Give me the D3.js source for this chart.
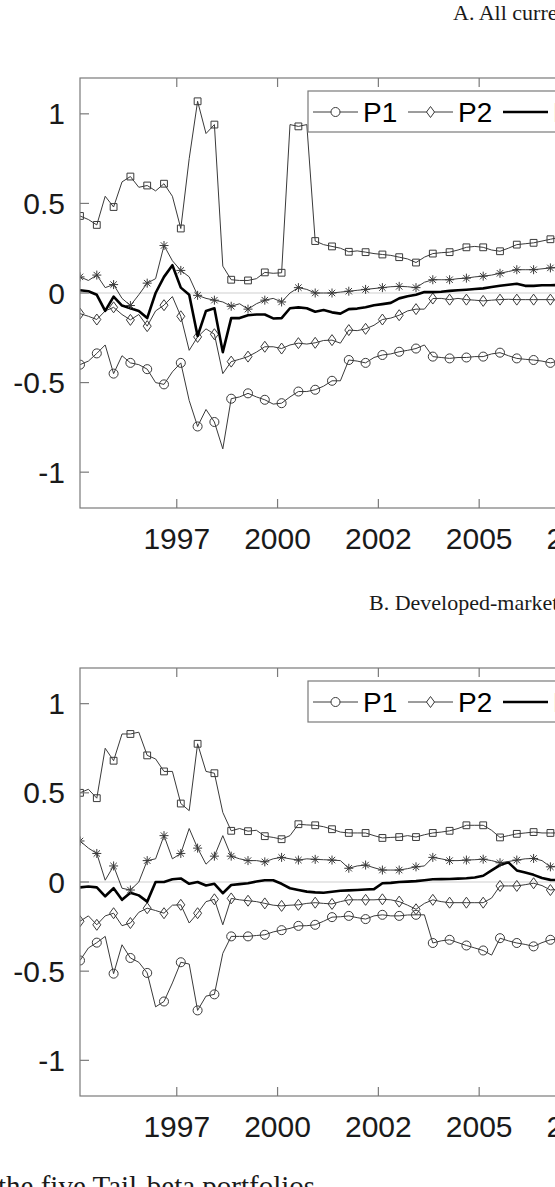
<!DOCTYPE html>
<html>
<head>
<meta charset="utf-8">
<script src="https://cdn.jsdelivr.net/npm/d3@7"></script>
<style>
  body { margin: 0; background: #fff; }
  svg { display: block; }
</style>
</head>
<body>
<script>
// time grid: one value every 2.5 months, markers on every second value
const startYear = 1995.1, stepYears = 5 / 24;
const xTickYears = [1997.5, 2000, 2002.5, 2005, 2007.5];
const xTickLabels = ["1997", "2000", "2002", "2005", "2007"];
const yTicks = [-1, -0.5, 0, 0.5, 1];
const yTickLabels = ["-1", "-0.5", "0", "0.5", "1"];
const seriesNames = ["P1", "P2", "P3", "P4", "P5"];

// A. All currencies
const allP1 = [-0.40,-0.38,-0.337,-0.29,-0.45,-0.35,-0.39,-0.40,-0.425,-0.50, -0.51,-0.44,-0.39,-0.60,-0.745,-0.65,-0.72,-0.87,-0.59,-0.58, -0.56,-0.58,-0.596,-0.62,-0.615,-0.58,-0.55,-0.55,-0.54,-0.52, -0.49,-0.49,-0.374,-0.38,-0.39,-0.36,-0.346,-0.34,-0.328,-0.32, -0.31,-0.29,-0.355,-0.36,-0.365,-0.36,-0.36,-0.355,-0.355,-0.34, -0.333,-0.35,-0.365,-0.37,-0.374,-0.38,-0.39,-0.38,-0.38];
const allP2 = [-0.115,-0.13,-0.148,-0.10,-0.08,-0.12,-0.15,-0.12,-0.185,-0.10, -0.068,-0.02,-0.13,-0.32,-0.245,-0.20,-0.23,-0.45,-0.383,-0.37, -0.355,-0.33,-0.30,-0.30,-0.31,-0.29,-0.28,-0.285,-0.278,-0.265, -0.263,-0.28,-0.207,-0.21,-0.20,-0.18,-0.148,-0.14,-0.124,-0.10, -0.09,-0.09,-0.031,-0.03,-0.037,-0.03,-0.037,-0.04,-0.044,-0.04, -0.037,-0.035,-0.037,-0.037,-0.037,-0.037,-0.037,-0.04,-0.04];
const allP3 = [0.015,0.01,-0.01,-0.10,-0.02,-0.07,-0.085,-0.10,-0.14,0.0, 0.09,0.155,0.03,-0.01,-0.24,-0.10,-0.085,-0.33,-0.14,-0.14, -0.124,-0.12,-0.12,-0.142,-0.14,-0.085,-0.08,-0.085,-0.105,-0.095, -0.108,-0.115,-0.09,-0.087,-0.08,-0.068,-0.062,-0.055,-0.03,-0.018, -0.01,0.005,0.005,0.007,0.012,0.015,0.018,0.022,0.026,0.033, 0.04,0.046,0.052,0.04,0.04,0.043,0.043,0.045,0.045];
const allP4 = [0.09,0.07,0.10,0.03,0.047,-0.03,-0.07,-0.01,0.055,0.08, 0.265,0.18,0.126,0.09,-0.013,-0.03,-0.04,-0.05,-0.074,-0.06, -0.09,-0.06,-0.04,-0.03,-0.05,0.0,0.03,0.02,0.0,0.0, 0.0,0.005,0.01,0.015,0.02,0.025,0.03,0.035,0.037,0.035, 0.03,0.06,0.074,0.074,0.074,0.08,0.083,0.09,0.094,0.10, 0.11,0.12,0.13,0.13,0.13,0.135,0.14,0.145,0.15];
const allP5 = [0.43,0.41,0.38,0.54,0.48,0.62,0.65,0.59,0.60,0.57, 0.61,0.54,0.36,0.75,1.07,0.89,0.94,0.15,0.074,0.07, 0.07,0.08,0.115,0.11,0.113,0.94,0.93,0.94,0.29,0.27, 0.26,0.25,0.23,0.235,0.228,0.22,0.215,0.21,0.20,0.19, 0.17,0.20,0.22,0.225,0.228,0.24,0.255,0.26,0.255,0.24, 0.233,0.25,0.27,0.275,0.28,0.29,0.30,0.31,0.31];

// B. Developed-market currencies
const devP1 = [-0.44,-0.37,-0.34,-0.305,-0.514,-0.352,-0.426,-0.45,-0.51,-0.70, -0.67,-0.566,-0.45,-0.46,-0.72,-0.64,-0.63,-0.40,-0.305,-0.305, -0.305,-0.30,-0.296,-0.28,-0.27,-0.26,-0.246,-0.245,-0.24,-0.22, -0.197,-0.195,-0.19,-0.20,-0.208,-0.19,-0.184,-0.19,-0.19,-0.185, -0.184,-0.184,-0.342,-0.33,-0.324,-0.34,-0.356,-0.37,-0.384,-0.41, -0.315,-0.33,-0.342,-0.35,-0.361,-0.34,-0.324,-0.32,-0.32];
const devP2 = [-0.22,-0.19,-0.24,-0.19,-0.175,-0.245,-0.23,-0.17,-0.147,-0.16, -0.175,-0.13,-0.128,-0.23,-0.175,-0.11,-0.097,-0.24,-0.092,-0.10, -0.105,-0.11,-0.12,-0.13,-0.134,-0.13,-0.128,-0.12,-0.116,-0.12, -0.123,-0.11,-0.10,-0.10,-0.10,-0.10,-0.097,-0.10,-0.11,-0.13, -0.153,-0.12,-0.10,-0.11,-0.116,-0.116,-0.116,-0.116,-0.116,-0.09, -0.022,-0.022,-0.022,-0.015,-0.007,-0.02,-0.045,-0.04,-0.04];
const devP3 = [-0.03,-0.025,-0.03,-0.08,-0.035,-0.10,-0.06,-0.075,-0.11,0.0, 0.0,0.015,0.02,-0.01,0.0,-0.02,-0.01,-0.063,-0.017,-0.012, -0.007,0.003,0.01,0.01,-0.01,-0.035,-0.045,-0.054,-0.058,-0.06, -0.055,-0.049,-0.047,-0.045,-0.042,-0.04,-0.007,-0.005,0.0,0.002, 0.005,0.01,0.015,0.016,0.017,0.019,0.021,0.025,0.035,0.065, 0.095,0.11,0.065,0.053,0.04,0.022,0.012,0.01,0.01];
const devP4 = [0.23,0.19,0.16,0.01,0.09,-0.035,-0.045,0.0,0.12,0.13, 0.26,0.13,0.16,0.30,0.19,0.10,0.145,0.26,0.145,0.13, 0.12,0.12,0.113,0.13,0.138,0.13,0.123,0.13,0.127,0.125, 0.123,0.12,0.077,0.09,0.095,0.08,0.067,0.067,0.067,0.075, 0.085,0.09,0.138,0.13,0.12,0.12,0.123,0.125,0.128,0.12, 0.108,0.115,0.123,0.13,0.132,0.12,0.085,0.09,0.09];
const devP5 = [0.50,0.52,0.47,0.75,0.68,0.83,0.83,0.84,0.71,0.69, 0.62,0.62,0.44,0.40,0.775,0.62,0.61,0.39,0.287,0.30, 0.285,0.29,0.257,0.25,0.24,0.26,0.324,0.32,0.318,0.31, 0.296,0.28,0.275,0.275,0.275,0.26,0.247,0.25,0.252,0.26, 0.252,0.265,0.275,0.28,0.287,0.30,0.318,0.318,0.318,0.29, 0.25,0.26,0.27,0.275,0.28,0.275,0.275,0.275,0.275];

const W = 555, H = 1187;
const lineColor = "#3a3a3a", axisColor = "#7a7a7a", textColor = "#1a1a1a";
const sansFont = "'Liberation Sans', Arial, Helvetica, sans-serif";
const serifFont = "'Liberation Serif', 'Times New Roman', serif";

const svg = d3.select("body").append("svg")
  .attr("width", W)
  .attr("height", H);

// marker shapes (MATLAB style: o, diamond, none, *, square)
function markerPath(kind) {
  if (kind === "circle") return d3.symbol(d3.symbolCircle, 64)();
  if (kind === "diamond") return "M0,-5.5L4,0L0,5.5L-4,0Z";
  if (kind === "square") return "M-3.4,-3.4H3.4V3.4H-3.4Z";
  if (kind === "star") return "M-4.5,0H4.5M0,-4.5V4.5M-3.2,-3.2L3.2,3.2M-3.2,3.2L3.2,-3.2";
  return null;
}
const markerKinds = ["circle", "diamond", null, "star", "square"];

function drawPanel(opts) {
  const { top, bottom, series, title, titleX, titleY, clipId } = opts;
  const left = 80, right = 640;

  const x = d3.scaleLinear().domain([startYear, startYear + (right - left) / 40.32]).range([left, right]);
  const y = d3.scaleLinear().domain([-1.2, 1.2]).range([bottom, top]);

  // panel title
  svg.append("text")
    .attr("x", titleX)
    .attr("y", titleY)
    .attr("font-family", serifFont)
    .attr("font-size", 22)
    .attr("fill", textColor)
    .text(title);

  svg.append("clipPath").attr("id", clipId)
    .append("rect")
    .attr("x", left).attr("y", top)
    .attr("width", right - left).attr("height", bottom - top);

  // zero reference line
  svg.append("line")
    .attr("x1", left).attr("x2", right)
    .attr("y1", y(0)).attr("y2", y(0))
    .attr("stroke", "#cfcfcf")
    .attr("stroke-width", 1);

  const g = svg.append("g").attr("clip-path", `url(#${clipId})`);

  const line = d3.line()
    .x((d, i) => x(startYear + i * stepYears))
    .y(d => y(d));

  series.forEach((values, k) => {
    const thick = k === 2;
    g.append("path")
      .datum(values)
      .attr("d", line)
      .attr("fill", "none")
      .attr("stroke", thick ? "#000" : lineColor)
      .attr("stroke-width", thick ? 2.6 : 1)
      .attr("stroke-linejoin", "round");

    const kind = markerKinds[k];
    if (!kind) return;
    g.selectAll(null)
      .data(values.filter((d, i) => i % 2 === 0))
      .enter()
      .append("path")
      .attr("transform", (d, j) => `translate(${x(startYear + 2 * j * stepYears)},${y(d)})`)
      .attr("d", markerPath(kind))
      .attr("fill", "none")
      .attr("stroke", lineColor)
      .attr("stroke-width", 1);
  });

  // box and ticks
  const axes = svg.append("g").attr("stroke", axisColor).attr("stroke-width", 1.2).attr("fill", "none");
  axes.append("rect")
    .attr("x", left).attr("y", top)
    .attr("width", right - left).attr("height", bottom - top);

  xTickYears.forEach(t => {
    axes.append("line").attr("x1", x(t)).attr("x2", x(t)).attr("y1", bottom).attr("y2", bottom - 9);
    axes.append("line").attr("x1", x(t)).attr("x2", x(t)).attr("y1", top).attr("y2", top + 9);
  });
  yTicks.forEach(v => {
    axes.append("line").attr("x1", left).attr("x2", left + 9).attr("y1", y(v)).attr("y2", y(v));
  });

  svg.append("g")
    .selectAll("text")
    .data(xTickYears)
    .enter()
    .append("text")
    .attr("x", d => x(d))
    .attr("y", bottom + 41)
    .attr("text-anchor", "middle")
    .attr("font-family", sansFont)
    .attr("font-size", 30)
    .attr("fill", textColor)
    .text((d, i) => xTickLabels[i]);

  svg.append("g")
    .selectAll("text")
    .data(yTicks)
    .enter()
    .append("text")
    .attr("x", left - 15)
    .attr("y", d => y(d) + 10.5)
    .attr("text-anchor", "end")
    .attr("font-family", sansFont)
    .attr("font-size", 30)
    .attr("fill", textColor)
    .text((d, i) => yTickLabels[i]);

  // legend, horizontal, top right
  const lgTop = opts.legendTop, lgLeft = 308, lgH = 41;
  const lg = svg.append("g");
  lg.append("rect")
    .attr("x", lgLeft).attr("y", lgTop)
    .attr("width", 480).attr("height", lgH)
    .attr("fill", "#fff")
    .attr("stroke", axisColor)
    .attr("stroke-width", 1.2);
  const ly = lgTop + lgH / 2 + 0.5;
  seriesNames.forEach((name, k) => {
    const x0 = lgLeft + 5 + k * 95;
    lg.append("line")
      .attr("x1", x0).attr("x2", x0 + 45)
      .attr("y1", ly).attr("y2", ly)
      .attr("stroke", k === 2 ? "#000" : lineColor)
      .attr("stroke-width", k === 2 ? 2.6 : 1);
    const kind = markerKinds[k];
    if (kind) {
      lg.append("path")
        .attr("transform", `translate(${x0 + 22.5},${ly})`)
        .attr("d", markerPath(kind))
        .attr("fill", "#fff")
        .attr("stroke", lineColor)
        .attr("stroke-width", 1);
    }
    lg.append("text")
      .attr("x", x0 + 50)
      .attr("y", ly + 10)
      .attr("font-family", sansFont)
      .attr("font-size", 28)
      .attr("fill", "#000")
      .text(name);
  });
}

drawPanel({
  top: 78, bottom: 508,
  series: [allP1, allP2, allP3, allP4, allP5],
  title: "A. All currencies", titleX: 453, titleY: 20,
  legendTop: 91, clipId: "clipA"
});

drawPanel({
  top: 668, bottom: 1096,
  series: [devP1, devP2, devP3, devP4, devP5],
  title: "B. Developed-market currencies", titleX: 369, titleY: 610,
  legendTop: 681, clipId: "clipB"
});

// caption line under the figure, mostly below the visible area
svg.append("text")
  .attr("x", -2)
  .attr("y", 1196)
  .attr("font-family", serifFont)
  .attr("font-size", 29)
  .attr("fill", textColor)
  .text("the five Tail-beta portfolios.");
</script>
</body>
</html>
